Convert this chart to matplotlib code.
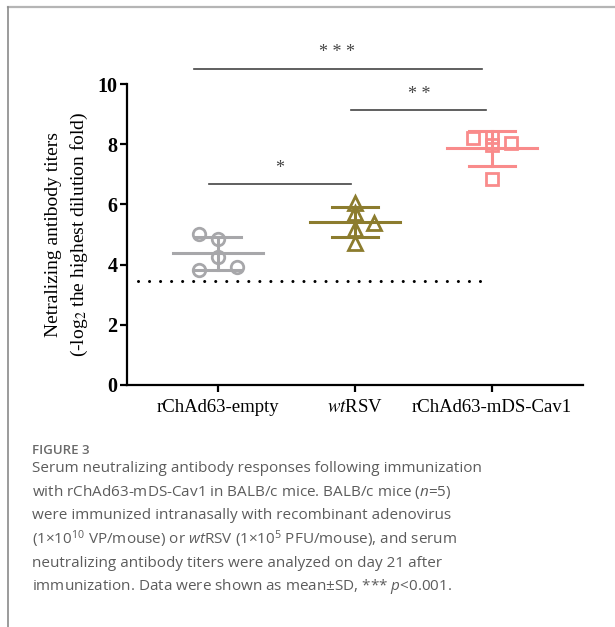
import numpy as np
import matplotlib
matplotlib.use('Agg')
import matplotlib.pyplot as plt
from matplotlib.lines import Line2D

plt.rcParams['font.family'] = ['Liberation Serif', 'DejaVu Serif']
plt.rcParams['mathtext.fontset'] = 'custom'
plt.rcParams['mathtext.rm'] = 'Open Sans'
plt.rcParams['mathtext.it'] = 'Open Sans:italic'

# data
groups = ['rChAd63-empty', r'$\mathit{wt}$RSV', 'rChAd63-mDS-Cav1']
vals_empty = [5.02, 4.85, 4.25, 3.82, 3.92]
vals_wt = [6.05, 5.71, 5.38, 5.18, 4.72]
vals_cav = [8.21, 8.24, 7.97, 8.04, 6.84]
jit_empty = [-0.14, 0.0, 0.0, -0.14, 0.14]
jit_wt = [0.0, 0.0, 0.14, 0.0, 0.0]
jit_cav = [-0.14, 0.0, 0.0, 0.14, 0.0]
detect_limit = 3.45

colors = ['#a7a7aa', '#8c7c2e', '#f98b8b']
markers = ['o', '^', 's']

# significance bars: (x1, x2, y, label, label_x, label_y)
sig = [(-0.07, 0.97, 6.68, '* ', 0.45, 7.2),
       (0.97, 1.96, 9.14, '* *', 1.47, 9.65),
       (-0.18, 1.93, 10.5, '* * *', 0.87, 11.05)]

fig = plt.figure(figsize=(6.15, 6.27), dpi=100)
ax = fig.add_axes([127/615, 242/627, 456/615, 301/627])

data = [vals_empty, vals_wt, vals_cav]
jits = [jit_empty, jit_wt, jit_cav]
for i, (v, j) in enumerate(zip(data, jits)):
    v = np.array(v)
    m = v.mean()
    sd = v.std(ddof=1)
    c = colors[i]
    ax.plot([i - 0.33, i + 0.33], [m, m], color=c, lw=2.2, zorder=3)
    ax.plot([i - 0.17, i + 0.17], [m + sd, m + sd], color=c, lw=2.2, zorder=3)
    ax.plot([i - 0.17, i + 0.17], [m - sd, m - sd], color=c, lw=2.2, zorder=3)
    ax.plot([i, i], [m - sd, m + sd], color=c, lw=2.2, zorder=3)
    ms = {'o': 9, '^': 10, 's': 8}[markers[i]]
    ax.plot(i + np.array(j), v, ls='none', marker=markers[i], ms=ms,
            mfc='none', mec=c, mew=2.0, zorder=4)

ax.plot([-0.59, 1.94], [detect_limit, detect_limit], color='black', lw=2.2,
        ls=(0, (0.01, 3.6)), dash_capstyle='round', zorder=2)

for x1, x2, y, lab, lx, ly in sig:
    ax.plot([x1, x2], [y, y], color='#444444', lw=1.2, clip_on=False)
    ax.text(lx, ly, lab.strip(), ha='center', va='center', fontsize=13,
            color='#444444', clip_on=False)

ax.set_xlim(-0.667, 2.667)
ax.set_ylim(0, 10)
ax.set_yticks([0, 2, 4, 6, 8, 10])
ax.set_xticks([0, 1, 2])
ax.set_xticklabels(groups, fontsize=13.5)
for t in ax.get_xticklabels():
    t.set_math_fontfamily('stix')
for t in ax.get_yticklabels():
    t.set_fontweight('bold')
    t.set_fontsize(14.5)
ax.spines['top'].set_visible(False)
ax.spines['right'].set_visible(False)
for s in ['left', 'bottom']:
    ax.spines[s].set_linewidth(1.6)
ax.tick_params(width=1.6, length=5, pad=2)
ax.tick_params(axis='x', pad=5)
ylab = ax.set_ylabel('Netralizing antibody titers\n(-log$_2$ the highest dilution fold)',
                     fontsize=14, labelpad=5, linespacing=1.45)
ylab.set_math_fontfamily('stix')

# page frame
fig.add_artist(Line2D([8/615, 1], [1 - 7/627, 1 - 7/627], color='#b5b5b5', lw=1.6))
fig.add_artist(Line2D([8/615, 8/615], [0, 1 - 7/627], color='#8a8a8a', lw=1.2))

fig.text(32/615, 1 - 450/627, 'FIGURE 3', family='Open Sans', fontweight='semibold',
         fontsize=9.5, color='#6a6a6a', va='center')
caption = ['Serum neutralizing antibody responses following immunization',
           'with rChAd63-mDS-Cav1 in BALB/c mice. BALB/c mice ($\\mathit{n}$=5)',
           'were immunized intranasally with recombinant adenovirus',
           '(1×10$^{10}$ VP/mouse) or $\\mathit{wt}$RSV (1×10$^{5}$ PFU/mouse), and serum',
           'neutralizing antibody titers were analyzed on day 21 after',
           'immunization. Data were shown as mean±SD, *** $\\mathit{p}$<0.001.']
for k, line in enumerate(caption):
    t = fig.text(32/615, 1 - (468 + 23.8 * k)/627, line, family='Open Sans',
                 fontsize=11, color='#5c5c5c', va='center')
    t.set_math_fontfamily('custom')

fig.savefig('out.png', dpi=100)
